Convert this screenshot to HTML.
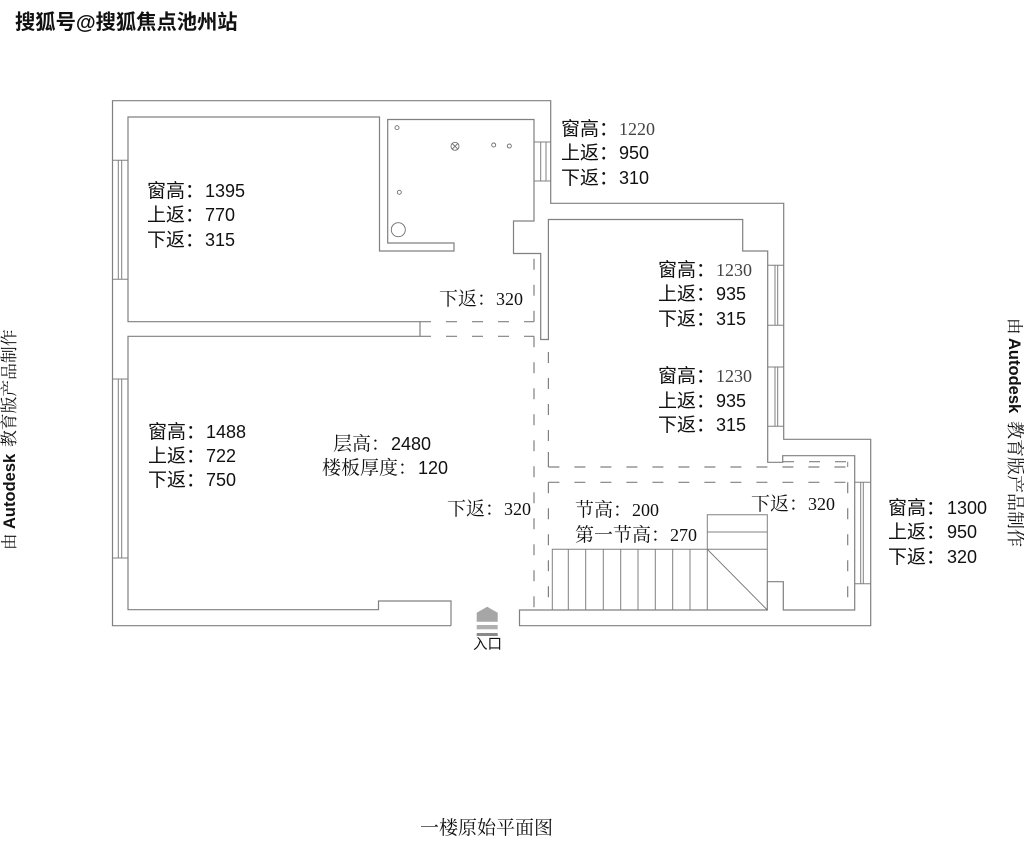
<!DOCTYPE html>
<html lang="zh">
<head>
<meta charset="utf-8">
<style>
html,body{margin:0;padding:0;background:#fff;width:1024px;height:856px;overflow:hidden}
svg{display:block}
text{fill:#111}
.s{font-family:"Liberation Sans","Noto Sans CJK SC",sans-serif;font-size:19px}
.c{font-family:"Liberation Sans","Noto Serif CJK SC",serif;font-size:19px}
.r{font-family:"Liberation Serif","Noto Serif CJK SC",serif;font-size:19px}
tspan.n{font-size:18px}
.w{fill:none;stroke:#808080;stroke-width:1.2}
.d{fill:none;stroke:#808080;stroke-width:1.2;stroke-dasharray:11 15}
.t{fill:none;stroke:#808080;stroke-width:1}
.f{fill:none;stroke:#707070;stroke-width:.9}
.st{font-family:"Liberation Sans","Noto Serif CJK SC",serif;font-size:16.5px}
</style>
</head>
<body>
<svg width="1024" height="856" viewBox="0 0 1024 856" xmlns="http://www.w3.org/2000/svg">
<rect width="1024" height="856" fill="#fff"/>

<!-- outer wall -->
<path class="w" d="M451 625.7H112.5V100.7H550.7V203.3H783.7V439.3H870.7V625.7H519.5V610H767.3V581.7H783.3V610H854.7V455.7H782.7V462.3H767.7V251H742.7V219.5H548.4V339.5H540.7V253.5H513.5V221H534V119.5H387.7V243H454V251H379.5V117H128V321.7H420V336.3H128V609.7H378.5V601H451V625.7"/>

<!-- dashed lines -->
<path class="d" d="M420 321.7H534"/>
<path class="d" d="M420 336.3H534"/>
<path class="d" d="M534 321.7V253"/>
<path class="d" d="M534 336.3V610"/>
<path class="d" d="M548.4 467V340" style="stroke-dasharray:15 11 11 15 11 15 11 15 11 15 11 15"/>
<path class="d" d="M548.4 467H848"/>
<path class="d" d="M548.4 482.3H848"/>
<path class="d" d="M548.4 482.3V610"/>
<path class="d" d="M847.7 482.3V610"/>
<path class="d" d="M783 461.7H848"/>
<path class="t" d="M847.7 461.7V467"/>

<!-- windows -->
<path class="t" d="M112.5 160.3H128M112.5 279.3H128M118.3 160.3V279.3M121.7 160.3V279.3"/>
<path class="t" d="M112.5 379H128M112.5 558H128M118.3 379V558M121.7 379V558"/>
<path class="t" d="M534 142H550.7M534 181H550.7M540.7 142V181M546 142V181"/>
<path class="t" d="M767.7 265.3H783.7M767.7 325.3H783.7M775 265.3V325.3M777.7 265.3V325.3"/>
<path class="t" d="M767.7 367H783.7M767.7 426.3H783.7M775 367V426.3M777.7 367V426.3"/>
<path class="t" d="M854.7 482.3H870.7M854.7 583.7H870.7M860.7 482.3V583.7M863.3 482.3V583.7"/>

<!-- stairs -->
<path class="t" d="M552.3 610V549.3H767.3M568.3 549.3V610M585.7 549.3V610M603.3 549.3V610M620.7 549.3V610M638 549.3V610M655.3 549.3V610M672.7 549.3V610M690 549.3V610M707.3 610V514.7H767.3V581.7M707.3 532H767.3"/>
<path class="f" d="M707.3 549.3L767.3 610"/>

<!-- fixtures -->
<circle class="f" cx="397" cy="127.7" r="2"/>
<circle class="f" cx="455" cy="146.3" r="4"/>
<path class="f" d="M452.2 143.5L457.8 149.1M457.8 143.5L452.2 149.1"/>
<circle class="f" cx="493.7" cy="145" r="2"/>
<circle class="f" cx="509.3" cy="146" r="2"/>
<circle class="f" cx="399.3" cy="192.3" r="2"/>
<circle class="f" cx="398.3" cy="229.7" r="7"/>

<!-- entry symbol -->
<path d="M476.7 621.7V612.7L487.2 606.7L497.7 612.7V621.7Z" fill="#a6a6a6"/>
<rect x="476.7" y="625" width="21" height="4.3" fill="#b0b0b0"/>
<rect x="476.7" y="633" width="21" height="3" fill="#8a8a8a"/>
<text x="473" y="649" style="font-family:'Liberation Sans','Noto Sans CJK SC',sans-serif;font-size:14.5px">入口</text>

<!-- labels: bedroom -->
<text class="s" x="147" y="197">窗高：<tspan class="n" x="205">1395</tspan></text>
<text class="s" x="147" y="221">上返：<tspan class="n" x="205">770</tspan></text>
<text class="s" x="147" y="246">下返：<tspan class="n" x="205">315</tspan></text>

<!-- labels: top right -->
<text class="s" x="561" y="135">窗高：<tspan x="619" class="n" style="font-family:'Liberation Serif',serif;fill:#444">1220</tspan></text>
<text class="s" x="561" y="159">上返：<tspan class="n" x="619">950</tspan></text>
<text class="s" x="561" y="184">下返：<tspan class="n" x="619">310</tspan></text>

<!-- labels: right room -->
<text class="s" x="658" y="276">窗高：<tspan x="716" class="n" style="font-family:'Liberation Serif',serif;fill:#444">1230</tspan></text>
<text class="s" x="658" y="300">上返：<tspan class="n" x="716">935</tspan></text>
<text class="s" x="658" y="325">下返：<tspan class="n" x="716">315</tspan></text>
<text class="s" x="658" y="382">窗高：<tspan x="716" class="n" style="font-family:'Liberation Serif',serif;fill:#444">1230</tspan></text>
<text class="s" x="658" y="407">上返：<tspan class="n" x="716">935</tspan></text>
<text class="s" x="658" y="431">下返：<tspan class="n" x="716">315</tspan></text>

<!-- labels: living -->
<text class="s" x="148" y="438">窗高：<tspan class="n" x="206">1488</tspan></text>
<text class="s" x="148" y="462">上返：<tspan class="n" x="206">722</tspan></text>
<text class="s" x="148" y="486">下返：<tspan class="n" x="206">750</tspan></text>

<text class="c" x="333" y="450">层高：<tspan class="n" x="391">2480</tspan></text>
<text class="c" x="322" y="474">楼板厚度：<tspan class="n" x="418">120</tspan></text>

<!-- labels: stair room -->
<text class="s" x="888" y="514">窗高：<tspan class="n" x="947">1300</tspan></text>
<text class="s" x="888" y="538">上返：<tspan class="n" x="947">950</tspan></text>
<text class="s" x="888" y="563">下返：<tspan class="n" x="947">320</tspan></text>

<!-- serif labels -->
<text class="r" x="439" y="305">下返：<tspan class="n" x="496">320</tspan></text>
<text class="r" x="447" y="515">下返：<tspan class="n" x="504">320</tspan></text>
<text class="r" x="751" y="510">下返：<tspan class="n" x="808">320</tspan></text>
<text class="r" x="575" y="516">节高：<tspan class="n" x="632">200</tspan></text>
<text class="r" x="575" y="541">第一节高：<tspan class="n" x="670">270</tspan></text>

<text class="r" x="420" y="834">一楼原始平面图</text>

<!-- watermark -->
<text x="15" y="29" style="font-family:'Liberation Sans','Noto Sans CJK SC',sans-serif;font-size:20.3px;font-weight:700;fill:#111">搜狐号@搜狐焦点池州站</text>

<!-- side stamps -->
<g transform="translate(15 550) rotate(-90)">
<text class="st" y="0">由<tspan x="21" font-weight="700">Autodesk</tspan><tspan x="103" style="font-size:16.8px">教育版产品制作</tspan></text>
</g>
<g transform="translate(1009 318) rotate(90)">
<text class="st" y="0">由<tspan x="20" font-weight="700">Autodesk</tspan><tspan x="103" style="font-size:18px">教育版产品制作</tspan></text>
</g>
</svg>
</body>
</html>
